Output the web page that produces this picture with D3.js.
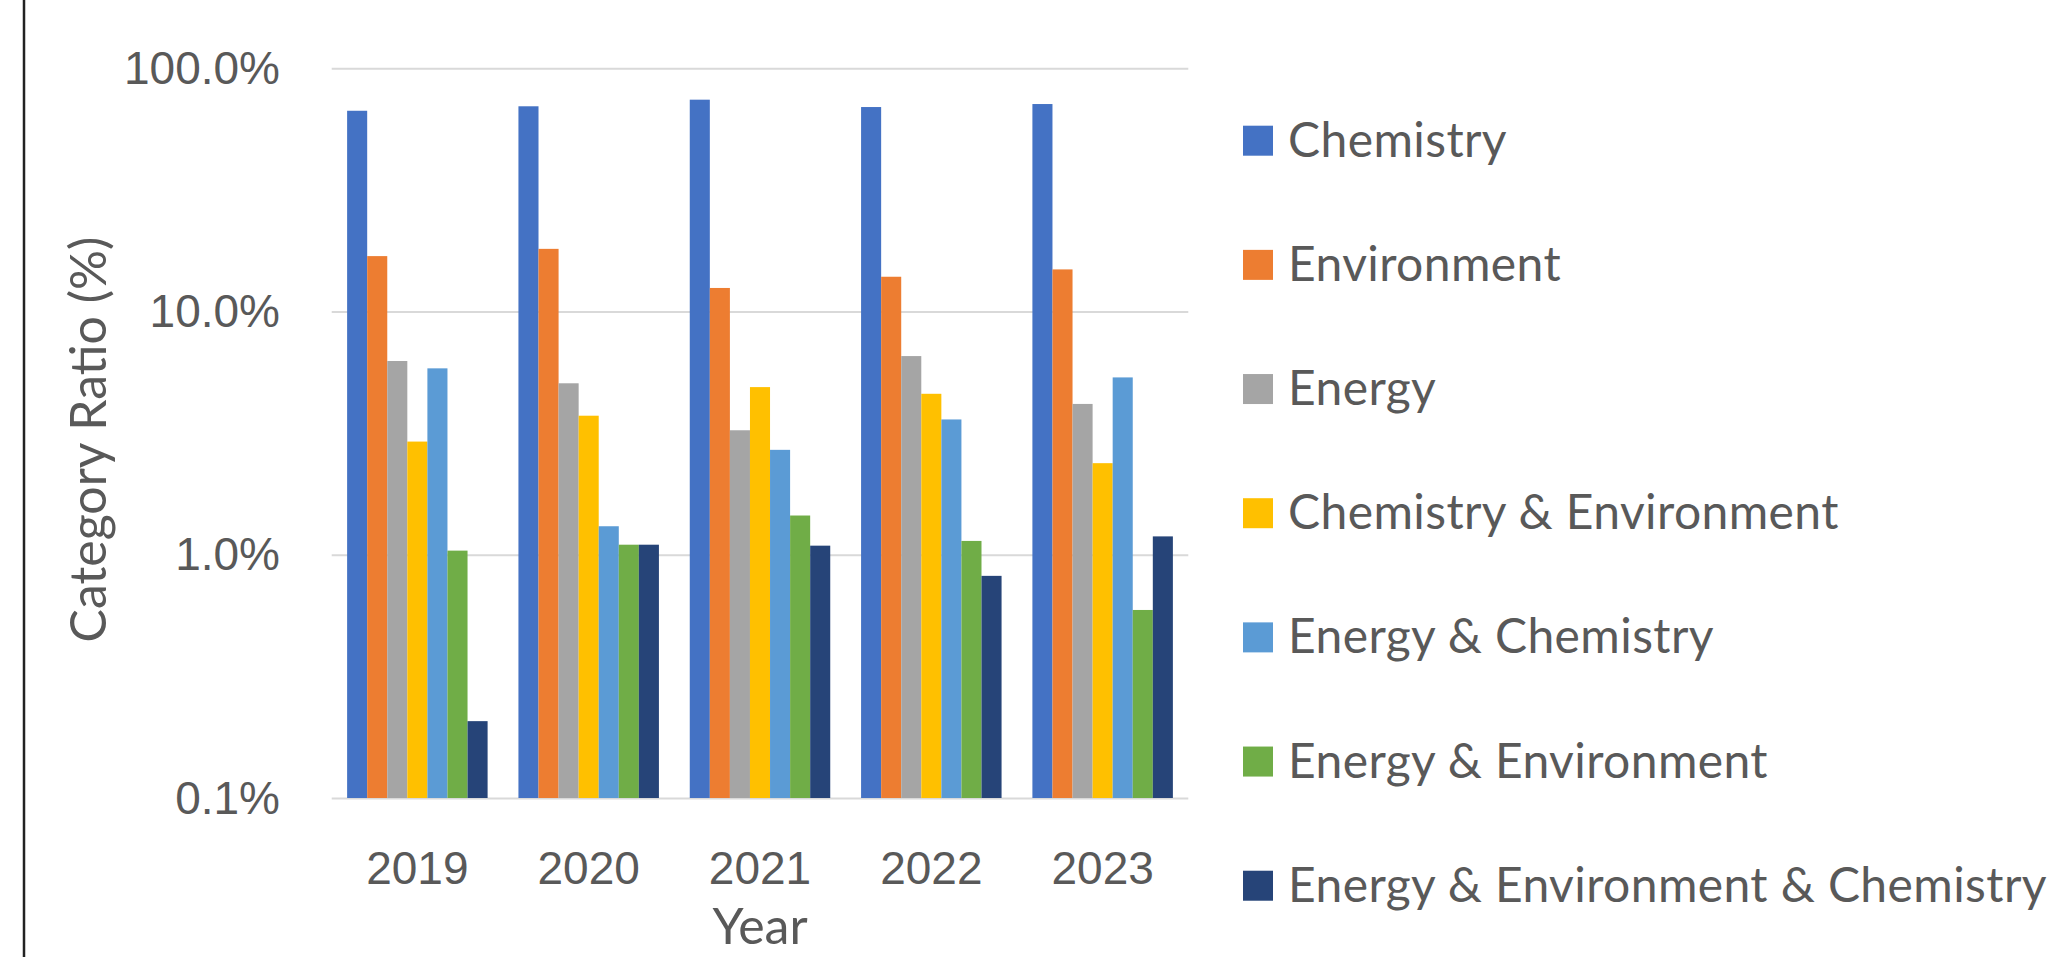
<!DOCTYPE html>
<html>
<head>
<meta charset="utf-8">
<script src="https://cdn.jsdelivr.net/npm/d3@7"></script>
<style>
  body { margin: 0; background: #fff; }
  svg { display: block; font-family: Lato, "Open Sans", sans-serif; }
  .axis text { fill: #595959; font-size: 46px; }
  .axis .tick line { stroke: #d9d9d9; stroke-width: 2; }
  .axis-title { fill: #595959; font-size: 50px; }
  .legend-text { fill: #595959; font-size: 48px; letter-spacing: 0.4px; }
</style>
</head>
<body>
<svg class="chart"></svg>
<script>
const years = ["2019", "2020", "2021", "2022", "2023"];
const seriesNames = ["Chemistry", "Environment", "Energy", "Chemistry & Environment",
  "Energy & Chemistry", "Energy & Environment", "Energy & Environment & Chemistry"];
const seriesColors = ["#4472C4", "#ED7D31", "#A5A5A5", "#FFC000", "#5B9BD5", "#70AD47", "#264478"];

// category ratio in %, one array per series, ordered like years
const chemistry = [66.9, 69.8, 74.3, 69.3, 71.3];
const environment = [16.9, 18.1, 12.5, 13.9, 14.9];
const energy = [6.26, 5.07, 3.25, 6.56, 4.17];
const chemistryEnvironment = [2.92, 3.73, 4.89, 4.59, 2.38];
const energyChemistry = [5.84, 1.31, 2.70, 3.60, 5.36];
const energyEnvironment = [1.04, 1.10, 1.45, 1.14, 0.593];
const energyEnvironmentChemistry = [0.207, 1.10, 1.09, 0.819, 1.19];
const seriesValues = [chemistry, environment, energy, chemistryEnvironment,
  energyChemistry, energyEnvironment, energyEnvironmentChemistry];

const yTicks = [0.1, 1, 10, 100];

let width = 2053, height = 957;
let margin = {top: 68.3, left: 331.7, right: 864.7, bottom: 159};
let plotW = width - margin.left - margin.right;
let plotH = height - margin.top - margin.bottom;

let svg = d3.select(".chart").attr("width", width).attr("height", height);

// left border line
svg.append("line")
  .attr("x1", 24).attr("x2", 24).attr("y1", 0).attr("y2", height)
  .attr("stroke", "#222").attr("stroke-width", 2.5);

let chart = svg.append("g")
  .attr("transform", "translate(" + margin.left + "," + margin.top + ")");

let x0 = d3.scaleBand().domain(years).range([0, plotW]).paddingInner(0.18).paddingOuter(0.09);
let x1 = d3.scaleBand().domain(seriesNames).range([0, x0.bandwidth()]);
let y = d3.scaleLog().domain([0.1, 100]).range([plotH, 0]);

/* grid + y labels */
let yAxis = d3.axisLeft(y)
  .tickValues(yTicks)
  .tickFormat(d => d3.format(".1f")(d) + "%")
  .tickSize(-plotW)
  .tickPadding(51.7);
let yG = chart.append("g").attr("class", "axis").call(yAxis);
yG.select(".domain").remove();
yG.selectAll("text").attr("dy", "0.33em");

/* bars */
let group = chart.selectAll("g.year")
  .data(years)
  .enter().append("g")
  .attr("class", "year")
  .attr("transform", d => "translate(" + x0(d) + ",0)");

group.selectAll("rect")
  .data((d, i) => seriesNames.map((s, j) => ({name: s, value: seriesValues[j][i], color: seriesColors[j]})))
  .enter().append("rect")
  .attr("x", d => x1(d.name))
  .attr("width", x1.bandwidth())
  .attr("y", d => y(d.value))
  .attr("height", d => plotH - y(d.value))
  .attr("fill", d => d.color);

/* x labels */
let xAxis = d3.axisBottom(x0).tickSize(0).tickPadding(53);
let xG = chart.append("g").attr("class", "axis")
  .attr("transform", "translate(0," + plotH + ")")
  .call(xAxis);
xG.select(".domain").remove();

/* axis titles */
chart.append("text").text("Category Ratio (%)")
  .attr("class", "axis-title")
  .attr("text-anchor", "middle")
  .attr("transform", "translate(" + (106 - margin.left) + "," + (439.5 - margin.top) + ") rotate(-90)");

chart.append("text").text("Year")
  .attr("class", "axis-title")
  .attr("text-anchor", "middle")
  .attr("x", plotW / 2)
  .attr("y", 944 - margin.top);

/* legend */
let legend = svg.append("g").attr("transform", "translate(1243,140.7)");
let item = legend.selectAll("g")
  .data(seriesNames)
  .enter().append("g")
  .attr("transform", (d, i) => "translate(0," + (i * 124.17) + ")");
item.append("rect")
  .attr("x", 0).attr("y", -15)
  .attr("width", 30).attr("height", 30)
  .attr("fill", (d, i) => seriesColors[i]);
item.append("text")
  .attr("class", "legend-text")
  .attr("x", 45).attr("y", 16)
  .text(d => d);
</script>
</body>
</html>
